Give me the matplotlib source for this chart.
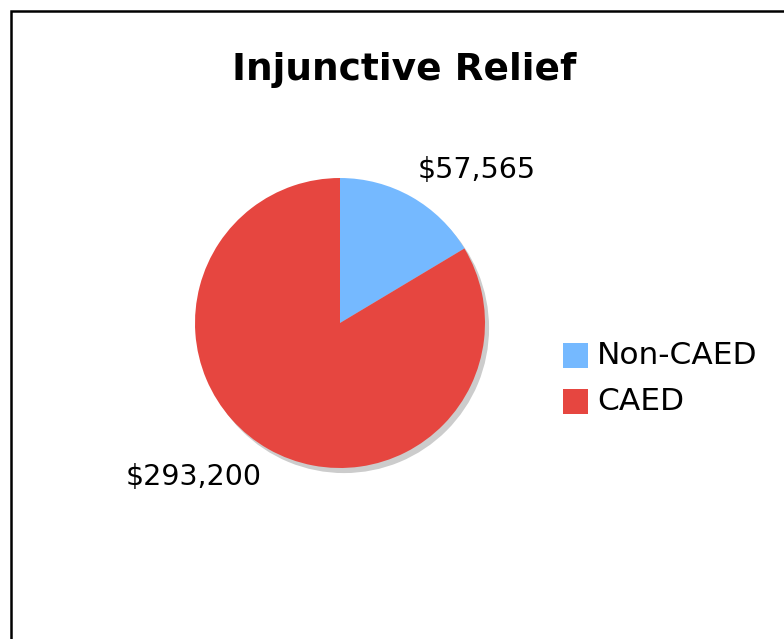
import matplotlib
matplotlib.use("Agg")
import matplotlib.pyplot as plt
from matplotlib.patches import Rectangle, Wedge

labels = ["Non-CAED", "CAED"]
amounts = [57565, 293200]
colors = ["#75B9FF", "#E64640"]

W, H = 784, 639
fig = plt.figure(figsize=(W / 100, H / 100), dpi=100)

# frame around the chart, runs off the right and bottom edges
fig.patches.append(Rectangle((11 / W, -0.1), 1.2, 1 - 11 / H + 0.1,
                             transform=fig.transFigure, fill=False,
                             edgecolor="black", linewidth=1.8))

fig.text(404 / W, 1 - 70 / H, "Injunctive Relief", ha="center", va="center",
         fontsize=27, fontweight="bold", family="DejaVu Sans")

# pie axes: radius 145 px around (340, 323)
cx, cy, r = 340, 323, 145
ax = fig.add_axes([(cx - r) / W, 1 - (cy + r) / H, 2 * r / W, 2 * r / H])
ax.set_xlim(-1, 1)
ax.set_ylim(-1, 1)
ax.axis("off")

# drop shadow
ax.add_patch(Wedge((0.028, -0.035), 1.0, 0, 360, facecolor="#cccccc",
                   edgecolor="none", clip_on=False, zorder=0))
ax.pie(amounts, colors=colors, startangle=90, counterclock=False,
       radius=1.0, wedgeprops=dict(linewidth=0), frame=False)
ax.set_xlim(-1, 1)
ax.set_ylim(-1, 1)

fig.text(477 / W, 1 - 170 / H, f"${amounts[0]:,}", ha="center", va="center",
         fontsize=20.5)
fig.text(194 / W, 1 - 477 / H, f"${amounts[1]:,}", ha="center", va="center",
         fontsize=20.5)

# legend
for i, (lab, col) in enumerate(zip(labels, colors)):
    yc = 355 + i * 46
    fig.patches.append(Rectangle((563 / W, 1 - (yc + 12.5) / H), 25 / W, 25 / H,
                                 transform=fig.transFigure, facecolor=col,
                                 edgecolor="none"))
    fig.text(597 / W, 1 - yc / H, lab, ha="left", va="center", fontsize=22.5)

fig.savefig("out.png", dpi=100)
